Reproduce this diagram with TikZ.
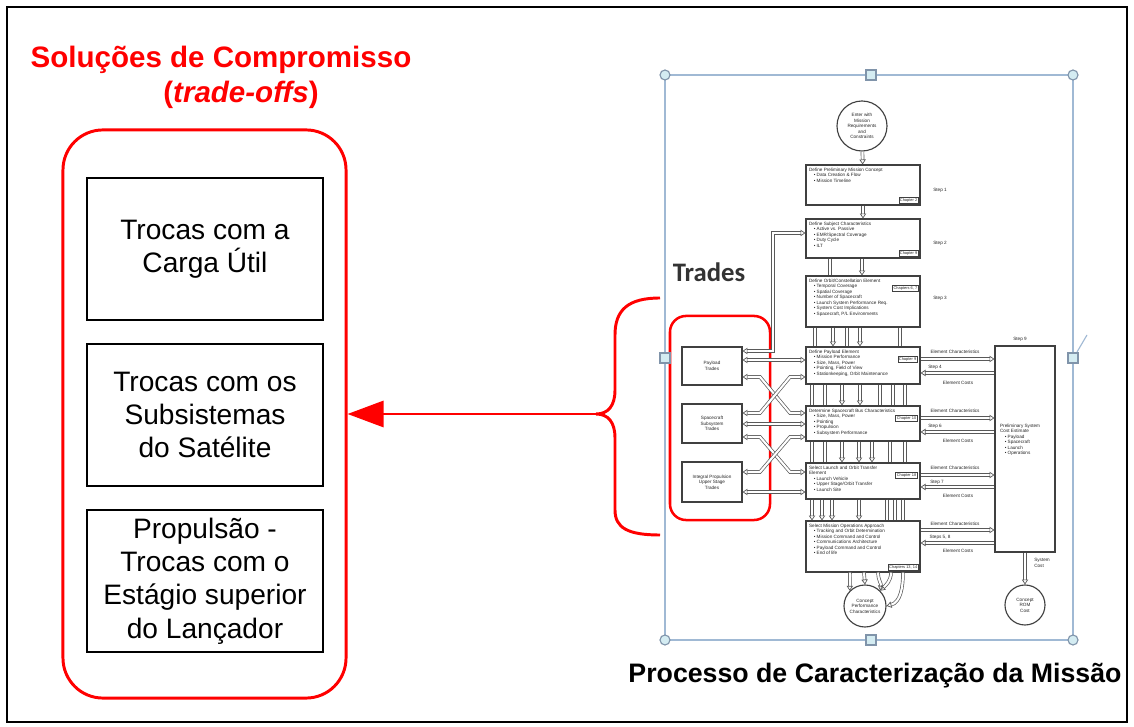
\documentclass[tikz,border=0pt]{standalone}
\usepackage{fontspec}
\setmainfont{Liberation Sans}
\newfontfamily\tradesfont{Carlito}
\usetikzlibrary{calc,arrows.meta,shapes.geometric}
\definecolor{selblue}{RGB}{160,185,212}
\definecolor{handlefill}{RGB}{212,236,242}
\def\vpipe[#1](#2)(#3)(#4){\draw[#1] (#4,0 |- #2.south) -- (#4,0 |- #3.north);}

\tikzset{
	tradebox/.style={draw=black, line width=1.4pt, minimum width=5.9cm, minimum height=3.55cm, inner sep=2pt, align=center, font=\fontsize{20}{23.7}\selectfont},
	fl/.style={draw=black!75, line width=0.8pt, inner sep=0pt},
	ftxt/.style={font=\fontsize{3.3}{3.9}\selectfont, text=black!85, align=left, inner sep=1pt},
	chap/.style={draw=black!75, line width=0.5pt, font=\fontsize{2.8}{3.2}\selectfont, text=black!85, inner sep=0.7pt},
	pipe/.style={draw=black!65, line width=0.5pt, double=white, double distance=1.5pt},
	parr/.style={pipe, -{Triangle[open,length=3.5pt,width=4.5pt]}},
	parr2/.style={pipe, {Triangle[open,length=3.5pt,width=4.5pt]}-{Triangle[open,length=3.5pt,width=4.5pt]}},
	handle/.style={draw=selblue!80!black, fill=handlefill, line width=0.8pt},
}

\begin{document}
\begin{tikzpicture}[x=0.025cm, y=-0.025cm]
		%%%%% START %%%%%
		\fill[white] (0,0) rectangle (1134,727);
		\useasboundingbox (0,0) rectangle (1134,727);
		\draw[line width=1.4pt] (7,7) rectangle (1127,722);
		
		% left side
		\node[text=red, font=\fontsize{21}{25}\selectfont\bfseries] (title) at (221,60) {Soluções de Compromisso};
		\node[text=red, font=\fontsize{21}{25}\selectfont\bfseries] (subtitle) at (241,95) {(\textit{trade-offs})};
		\node[draw=red, line width=2.1pt, rounded corners=1cm, minimum width=7.075cm, minimum height=14.2cm] (sol) at (204.5,414) {};
		\node[tradebox] (payloadtr) at (205,249) {Trocas com a\\Carga Útil};
		\node[tradebox] (bustr) at (205,415) {Trocas com os\\Subsistemas\\do Satélite};
		\node[tradebox] (launchtr) at (205,581) {Propulsão -\\Trocas com o\\Estágio superior\\do Lançador};
		
		% picture frame
		\draw[selblue, line width=1.5pt] (665,75) rectangle (1073,640);
		\draw[selblue, line width=0.8pt] (1077,352) -- (1087,335);
		
		% flow chart
		\node[fl, circle, minimum size=1.25cm, ftxt, align=center] (enter) at (862,126) {Enter with\\Mission\\Requirements\\and\\Constraints};
		
		\node[fl, minimum width=2.85cm, minimum height=1cm] (concept) at (863,185) {};
		\node[ftxt, anchor=north west] (conceptT) at ([shift={(2,2)}]concept.north west) {Define Preliminary Mission Concept\\\quad\textbullet\ Data Creation \& Flow\\\quad\textbullet\ Mission Timeline};
		\node[chap, anchor=south east] (conceptC) at ([shift={(-2,-2)}]concept.south east) {Chapter 2};
		
		\node[fl, minimum width=2.85cm, minimum height=0.975cm] (subject) at (863,238.5) {};
		\node[ftxt, anchor=north west] (subjectT) at ([shift={(2,2)}]subject.north west) {Define Subject Characteristics\\\quad\textbullet\ Active vs. Passive\\\quad\textbullet\ EMR/Spectral Coverage\\\quad\textbullet\ Duty Cycle\\\quad\textbullet\ ILT};
		\node[chap, anchor=south east] (subjectC) at ([shift={(-2,-2)}]subject.south east) {Chapter 9};
		
		\node[fl, minimum width=2.85cm, minimum height=1.275cm] (orbit) at (863,301.5) {};
		\node[ftxt, anchor=north west] (orbitT) at ([shift={(2,2)}]orbit.north west) {Define Orbit/Constellation Element\\\quad\textbullet\ Temporal Coverage\\\quad\textbullet\ Spatial Coverage\\\quad\textbullet\ Number of Spacecraft\\\quad\textbullet\ Launch System Performance Req.\\\quad\textbullet\ System Cost Implications\\\quad\textbullet\ Spacecraft, P/L Environments};
		\node[chap, anchor=north east] (orbitC) at ([shift={(-2,10)}]orbit.north east) {Chapters 6, 7};
		
		\node[fl, minimum width=2.85cm, minimum height=0.925cm] (payload) at (863,365.5) {};
		\node[ftxt, anchor=north west] (payloadT) at ([shift={(2,2)}]payload.north west) {Define Payload Element\\\quad\textbullet\ Mission Performance\\\quad\textbullet\ Size, Mass, Power\\\quad\textbullet\ Pointing, Field of View\\\quad\textbullet\ Stationkeeping, Orbit Maintenance};
		\node[chap, anchor=north east] (payloadC) at ([shift={(-3,10)}]payload.north east) {Chapter 9};
		
		\node[fl, minimum width=2.85cm, minimum height=0.875cm] (bus) at (863,423.5) {};
		\node[ftxt, anchor=north west] (busT) at ([shift={(2,2)}]bus.north west) {Determine Spacecraft Bus Characteristics\\\quad\textbullet\ Size, Mass, Power\\\quad\textbullet\ Pointing\\\quad\textbullet\ Propulsion\\\quad\textbullet\ Subsystem Performance};
		\node[chap, anchor=north east] (busC) at ([shift={(-3,10)}]bus.north east) {Chapter 10};
		
		\node[fl, minimum width=2.85cm, minimum height=0.9cm] (launch) at (863,481) {};
		\node[ftxt, anchor=north west] (launchT) at ([shift={(2,2)}]launch.north west) {Select Launch and Orbit Transfer\\Element\\\quad\textbullet\ Launch Vehicle\\\quad\textbullet\ Upper Stage/Orbit Transfer\\\quad\textbullet\ Launch Site};
		\node[chap, anchor=north east] (launchC) at ([shift={(-3,10)}]launch.north east) {Chapter 18};
		
		\node[fl, minimum width=2.85cm, minimum height=1.275cm] (ops) at (863,546.5) {};
		\node[ftxt, anchor=north west] (opsT) at ([shift={(2,2)}]ops.north west) {Select Mission Operations Approach\\\quad\textbullet\ Tracking and Orbit Determination\\\quad\textbullet\ Mission Command and Control\\\quad\textbullet\ Communications Architecture\\\quad\textbullet\ Payload Command and Control\\\quad\textbullet\ End of life};
		\node[chap, anchor=south east] (opsC) at ([shift={(-2,-2)}]ops.south east) {Chapters 13, 14};
		
		\node[fl, circle, minimum size=1.05cm, ftxt, align=center] (perf) at (865,606) {Concept\\Performance\\Characteristics};
		
		\node[fl, minimum width=1.5cm, minimum height=5.15cm] (cost) at (1025,449) {};
		\node[ftxt, anchor=west] (costT) at ([shift={(4,-9)}]cost.west) {Preliminary System\\Cost Estimate\\\quad\textbullet\ Payload\\\quad\textbullet\ Spacecraft\\\quad\textbullet\ Launch\\\quad\textbullet\ Operations};
		\node[fl, circle, minimum size=1cm, ftxt, align=center] (rom) at (1025,605) {Concept\\ROM\\Cost};
		
		% trades
		\node[draw=red, line width=1.8pt, rounded corners=0.4cm, minimum width=2.5cm, minimum height=5.1cm] (tradeframe) at (720,418) {};
		\node[fl, minimum width=1.5cm, minimum height=0.95cm, ftxt, align=center] (ptrade) at (712,366) {Payload\\Trades};
		\node[fl, minimum width=1.5cm, minimum height=0.975cm, ftxt, align=center] (strade) at (712,423.5) {Spacecraft\\Subsystem\\Trades};
		\node[fl, minimum width=1.5cm, minimum height=1cm, ftxt, align=center] (utrade) at (712,482) {Integral Propulsion\\Upper Stage\\Trades};
		\node[text=black!80, font=\tradesfont\fontsize{19}{22}\selectfont\bfseries] (tradeslbl) at (709,272) {Trades};
		
		% steps
		\node[ftxt] (step1) at (940,190) {Step 1};
		\node[ftxt] (step2) at (940,243) {Step 2};
		\node[ftxt] (step3) at (940,298) {Step 3};
		\node[ftxt] (step9) at (1020,339) {Step 9};
		\node[ftxt] (syscost) at (1042,563) {System\\Cost};
		
		% vertical pipes
		\draw[parr] (enter) -- (concept);
		\draw[parr] (concept) -- (subject);
		\vpipe[pipe](subject)(orbit)(830)
		\vpipe[parr](subject)(orbit)(862)
		\vpipe[pipe](orbit)(payload)(815)
		\vpipe[parr](orbit)(payload)(833)
		\vpipe[pipe](orbit)(payload)(847)
		\vpipe[parr](orbit)(payload)(860)
		\vpipe[pipe](orbit)(payload)(900)
		\vpipe[pipe](payload)(bus)(812)
		\vpipe[pipe](payload)(bus)(825)
		\vpipe[parr](payload)(bus)(842)
		\vpipe[parr](payload)(bus)(860)
		\vpipe[pipe](payload)(bus)(880)
		\vpipe[pipe](payload)(bus)(893)
		\vpipe[pipe](payload)(bus)(905)
		\vpipe[pipe](bus)(launch)(812)
		\vpipe[pipe](bus)(launch)(825)
		\vpipe[parr](bus)(launch)(842)
		\vpipe[parr](bus)(launch)(859)
		\vpipe[parr](bus)(launch)(872)
		\vpipe[pipe](bus)(launch)(890)
		\vpipe[pipe](bus)(launch)(905)
		\vpipe[parr](launch)(ops)(812)
		\vpipe[parr](launch)(ops)(822)
		\vpipe[parr](launch)(ops)(832)
		\vpipe[parr](launch)(ops)(859)
		\vpipe[pipe](launch)(ops)(887)
		\vpipe[pipe](launch)(ops)(895)
		\vpipe[pipe](launch)(ops)(903)
		\draw[parr] (850,0 |- ops.south) -- (perf.north west);
		\draw[parr] (864,0 |- ops.south) -- (perf.north);
		\draw[parr] (878,0 |- ops.south) to[out=-90, in=80] (perf.north east);
		\draw[parr] (891,0 |- ops.south) to[out=-90, in=45] (perf.north east);
		\draw[parr] (903,0 |- ops.south) to[out=-90, in=15] (perf.east);
		\draw[parr] (cost) -- (rom);
		
		% trades pipes
		\draw[parr2] (ptrade.east |- 0,351) -- (773,351) -- (773,233) -- (subject.west |- 0,233);
		\draw[parr2] (ptrade.east |- 0,360) -- (payload.west |- 0,360);
		\draw[parr2] (ptrade.east |- 0,377) -- (760,377) -- (790,413) -- (bus.west |- 0,413);
		\draw[parr2] (strade.east |- 0,413) -- (760,413) -- (790,377) -- (payload.west |- 0,377);
		\draw[parr2] (strade.east |- 0,424) -- (bus.west |- 0,424);
		\draw[parr2] (strade.east |- 0,437) -- (760,437) -- (790,472) -- (launch.west |- 0,472);
		\draw[parr2] (utrade.east |- 0,472) -- (760,472) -- (790,437) -- (bus.west |- 0,437);
		\draw[parr2] (utrade.east |- 0,492) -- (launch.west |- 0,492);
		
		% element characteristics and costs
		\draw[parr] (payload.east |- 0,359) -- (cost.west |- 0,359);
		\draw[parr] (cost.west |- 0,373) -- (payload.east |- 0,373);
		\draw[parr] (bus.east |- 0,418) -- (cost.west |- 0,418);
		\draw[parr] (cost.west |- 0,432) -- (bus.east |- 0,432);
		\draw[parr] (launch.east |- 0,475) -- (cost.west |- 0,475);
		\draw[parr] (cost.west |- 0,487) -- (launch.east |- 0,487);
		\draw[parr] (ops.east |- 0,530) -- (cost.west |- 0,530);
		\draw[parr] (cost.west |- 0,543) -- (ops.east |- 0,543);
		\node[ftxt] (ec1) at (955,352) {Element Characteristics};
		\node[ftxt] (st4) at (935,367) {Step 4};
		\node[ftxt] (co1) at (958,383) {Element Costs};
		\node[ftxt] (ec2) at (955,411) {Element Characteristics};
		\node[ftxt] (st6) at (935,426) {Step 6};
		\node[ftxt] (co2) at (958,441) {Element Costs};
		\node[ftxt] (ec3) at (955,468) {Element Characteristics};
		\node[ftxt] (st7) at (937,482) {Step 7};
		\node[ftxt] (co3) at (958,496) {Element Costs};
		\node[ftxt] (ec4) at (955,524) {Element Characteristics};
		\node[ftxt] (st58) at (940,537) {Steps 5, 8};
		\node[ftxt] (co4) at (958,551) {Element Costs};
		
		% handles
		\draw[handle] (665,75) circle (5);
		\draw[handle] (1073,75) circle (5);
		\draw[handle] (665,640) circle (5);
		\draw[handle] (1073,640) circle (5);
		\draw[handle] (866,70) rectangle (876,80);
		\draw[handle] (866,635) rectangle (876,645);
		\draw[handle] (660,353) rectangle (670,363);
		\draw[handle] (1068,353) rectangle (1078,363);
		
		% brace and arrow
		\draw[red, line width=2.1pt] (660,298) .. controls (628,298) and (615,310) .. (615,335) -- (615,390) .. controls (615,406) and (608,414) .. (596,414) .. controls (608,414) and (615,422) .. (615,438) -- (615,510) .. controls (615,528) and (628,535) .. (660,535);
		\coordinate (bracetip) at (596,414);
		\draw[red, line width=2.1pt, -{Triangle[length=0.9cm,width=0.65cm]}] (bracetip) -- (sol.east);
		
		\node[font=\fontsize{19}{22}\selectfont\bfseries] (caption) at (875,676) {Processo de Caracterização da Missão};
		%%%%% END %%%%%
	\end{tikzpicture}
\end{document}
